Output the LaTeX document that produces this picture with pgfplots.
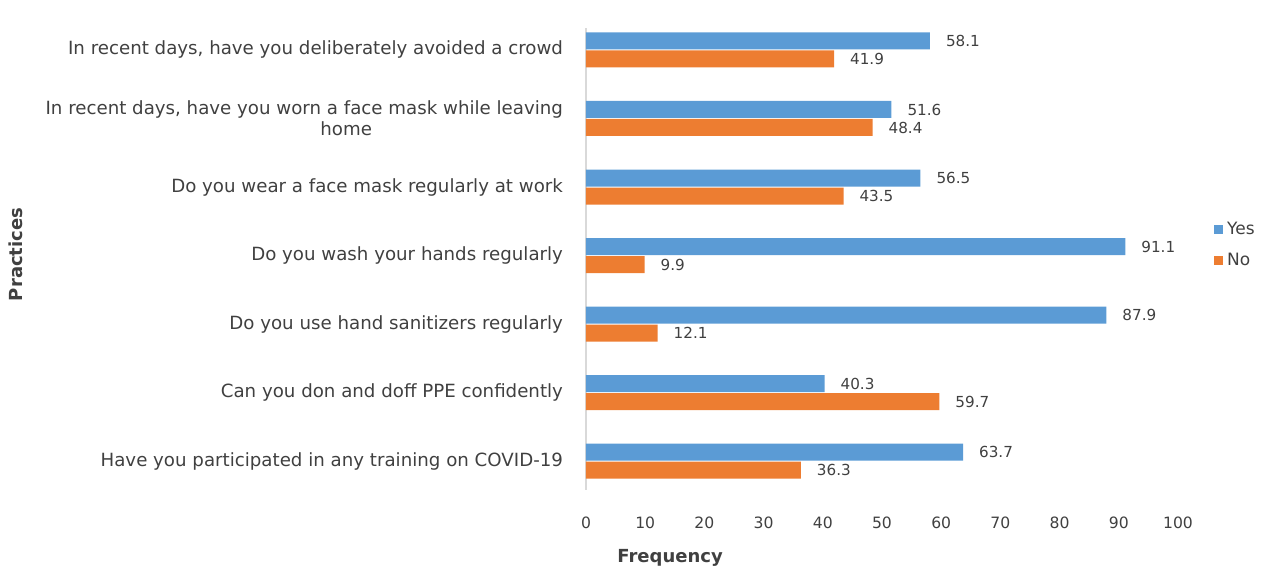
\documentclass[border=0pt]{standalone}
\usepackage{pgfplots}
\pgfplotsset{compat=1.18}
\usepackage{fontspec}
\setmainfont{DejaVu Sans}
\definecolor{yesblue}{HTML}{5B9BD5}
\definecolor{noorange}{HTML}{ED7D31}
\definecolor{txt}{HTML}{404040}
\definecolor{axgray}{HTML}{D9D9D9}
\begin{document}
\begin{tikzpicture}
\path[use as bounding box] (-293pt,-41pt) rectangle (347pt,286pt-41pt);
\begin{axis}[
  scale only axis,
  width=296pt, height=231pt,
  xbar, bar width=8.5pt,
  xmin=0, xmax=100,
  ymin=-0.32, ymax=6.42,
  y dir=reverse,
  xtick={0,10,...,100},
  ytick={0,...,6},
  yticklabels={
    {In recent days, have you deliberately avoided a crowd},
    {In recent days, have you worn a face mask while leaving\\\hspace*{42pt}home},
    {Do you wear a face mask regularly at work},
    {Do you wash your hands regularly},
    {Do you use hand sanitizers regularly},
    {Can you don and doff PPE confidently},
    {Have you participated in any training on COVID-19}},
  major tick length=0pt,
  axis x line*=bottom,
  x axis line style={draw=none},
  axis y line*=left,
  y axis line style={axgray, line width=0.8pt},
  /pgf/number format/assume math mode=true,
  xticklabel style={text=txt, anchor=center, yshift=-16.5pt, font=\fontsize{7.8}{9}\selectfont},
  xticklabels={0,10,20,30,40,50,60,70,80,90,100},
  yticklabel style={text=txt, align=center, anchor=east, xshift=-8pt, font=\fontsize{9.1}{10.5}\selectfont},
  xlabel={\textbf{Frequency}},
  xlabel style={at={(axis description cs:0.142,0)}, anchor=center, yshift=-34pt, text=txt, font=\fontsize{9}{10}\selectfont},
  ylabel={\textbf{Practices}},
  ylabel style={at={([xshift=-285pt]axis description cs:0,0.51)}, anchor=center, text=txt, font=\fontsize{9}{10}\selectfont},
  nodes near coords,
  every node near coord/.append style={text=txt, anchor=west, xshift=4.5pt, font=\fontsize{7.6}{9}\selectfont},
  /pgf/number format/.cd, fixed, fixed zerofill, precision=1, /pgfplots/.cd,
  legend style={at={(axis description cs:1.0,0.53)}, anchor=west, xshift=18pt, draw=none, fill=none,
    font=\fontsize{8.5}{10}\selectfont, text=txt, row sep=4pt, inner sep=0pt},
  legend cell align=left,
  legend image code/.code={\fill[#1] (0pt,-2.2pt) rectangle (4.4pt,2.2pt);},
]
\addplot[fill=yesblue, draw=none, bar shift=4.5pt] coordinates {
(58.1,0) (51.6,1) (56.5,2) (91.1,3) (87.9,4) (40.3,5) (63.7,6)};
\addplot[fill=noorange, draw=none, bar shift=-4.5pt] coordinates {
(41.9,0) (48.4,1) (43.5,2) (9.9,3) (12.1,4) (59.7,5) (36.3,6)};
\legend{Yes,No}
\end{axis}
\end{tikzpicture}
\end{document}
